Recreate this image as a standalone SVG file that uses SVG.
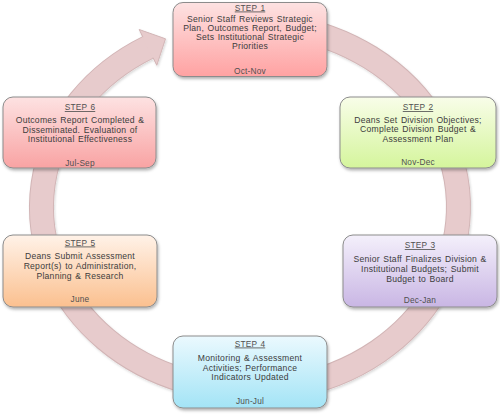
<svg xmlns="http://www.w3.org/2000/svg" width="500" height="416" viewBox="0 0 500 416">
<style>
.box{stroke:#8c8c8c;stroke-width:1;filter:url(#sh)}
.t{font-family:"Liberation Sans",Arial,sans-serif;font-weight:normal;font-size:8.6px;fill:#3c3c3c;text-anchor:middle;letter-spacing:0.25px;word-spacing:0.8px}
.h{font-size:8.3px;text-decoration:underline;letter-spacing:0.2px;fill:#505050}
.d{font-size:8.3px;letter-spacing:0.2px;fill:#505050}
</style>
<defs>
<filter id="sh" x="-10%" y="-10%" width="120%" height="130%">
<feDropShadow dx="1" dy="2" stdDeviation="1.5" flood-color="#000" flood-opacity="0.3"/>
</filter>
<filter id="rs" x="-10%" y="-10%" width="120%" height="120%">
<feDropShadow dx="1" dy="1.5" stdDeviation="1" flood-color="#000" flood-opacity="0.15"/>
</filter>
<linearGradient id="g1" x1="0" y1="0" x2="0" y2="1"><stop offset="0" stop-color="#fde2e2"/><stop offset="1" stop-color="#ffa2a2"/></linearGradient>
<linearGradient id="g2" x1="0" y1="0" x2="0" y2="1"><stop offset="0" stop-color="#f8fde9"/><stop offset="1" stop-color="#d5f59c"/></linearGradient>
<linearGradient id="g3" x1="0" y1="0" x2="0" y2="1"><stop offset="0" stop-color="#f4f0fb"/><stop offset="1" stop-color="#c9b6e4"/></linearGradient>
<linearGradient id="g4" x1="0" y1="0" x2="0" y2="1"><stop offset="0" stop-color="#ebf9fe"/><stop offset="1" stop-color="#a3e4f6"/></linearGradient>
<linearGradient id="g5" x1="0" y1="0" x2="0" y2="1"><stop offset="0" stop-color="#fff2e8"/><stop offset="1" stop-color="#fbc08f"/></linearGradient>
<linearGradient id="g6" x1="0" y1="0" x2="0" y2="1"><stop offset="0" stop-color="#fde2e2"/><stop offset="1" stop-color="#f9a3a3"/></linearGradient>
</defs>
<g id="connectors" filter="url(#rs)">
<path d="M286.2,26.8 A208.5,183 0 1 1 148,47.4" fill="none" stroke="#d2b5b6" stroke-width="25"/>
<path d="M286.2,26.8 A208.5,183 0 1 1 148,47.4" fill="none" stroke="#e7cbcc" stroke-width="23"/>
<polygon points="147.1,47.8 139.2,29.5 165.5,38.8 156.8,65.3" fill="#e7cbcc"/>
<polyline points="142.9,37.1 139.2,29.5 165.5,38.8 156.8,65.3 153.1,57.7" fill="none" stroke="#d2b5b6" stroke-width="1"/>
</g>
<g id="step1">
<rect class="box" x="173" y="2.5" width="154" height="74" rx="10" fill="url(#g1)"/>
<text class="t h" x="250" y="10.5">STEP 1</text>
<text class="t" x="250" y="21.5">Senior Staff Reviews Strategic</text>
<text class="t" x="250" y="31">Plan, Outcomes Report, Budget;</text>
<text class="t" x="250" y="40">Sets Institutional Strategic</text>
<text class="t" x="250" y="49">Priorities</text>
<text class="t d" x="250" y="74">Oct-Nov</text>
</g>
<g id="step2">
<rect class="box" x="340" y="97" width="156" height="71" rx="10" fill="url(#g2)"/>
<text class="t h" x="418" y="110">STEP 2</text>
<text class="t" x="418" y="122.5">Deans Set Division Objectives;</text>
<text class="t" x="418" y="132">Complete Division Budget &amp;</text>
<text class="t" x="418" y="141.5">Assessment Plan</text>
<text class="t d" x="418" y="165">Nov-Dec</text>
</g>
<g id="step3">
<rect class="box" x="343" y="235" width="154" height="72" rx="10" fill="url(#g3)"/>
<text class="t h" x="420" y="248">STEP 3</text>
<text class="t" x="420" y="262">Senior Staff Finalizes Division &amp;</text>
<text class="t" x="420" y="272">Institutional Budgets; Submit</text>
<text class="t" x="420" y="281.5">Budget to Board</text>
<text class="t d" x="420" y="303">Dec-Jan</text>
</g>
<g id="step4">
<rect class="box" x="173" y="336" width="154" height="72" rx="10" fill="url(#g4)"/>
<text class="t h" x="250" y="346.5">STEP 4</text>
<text class="t" x="250" y="361">Monitoring &amp; Assessment</text>
<text class="t" x="250" y="371">Activities; Performance</text>
<text class="t" x="250" y="380">Indicators Updated</text>
<text class="t d" x="250" y="404">Jun-Jul</text>
</g>
<g id="step5">
<rect class="box" x="3" y="235" width="154" height="72" rx="10" fill="url(#g5)"/>
<text class="t h" x="80" y="245.5">STEP 5</text>
<text class="t" x="80" y="259">Deans Submit Assessment</text>
<text class="t" x="80" y="269">Report(s) to Administration,</text>
<text class="t" x="80" y="279">Planning &amp; Research</text>
<text class="t d" x="80" y="302">June</text>
</g>
<g id="step6">
<rect class="box" x="3" y="97" width="153" height="71" rx="10" fill="url(#g6)"/>
<text class="t h" x="80" y="110">STEP 6</text>
<text class="t" x="80" y="123">Outcomes Report Completed &amp;</text>
<text class="t" x="80" y="132.5">Disseminated. Evaluation of</text>
<text class="t" x="80" y="141.5">Institutional Effectiveness</text>
<text class="t d" x="80" y="165.5">Jul-Sep</text>
</g>
</svg>
